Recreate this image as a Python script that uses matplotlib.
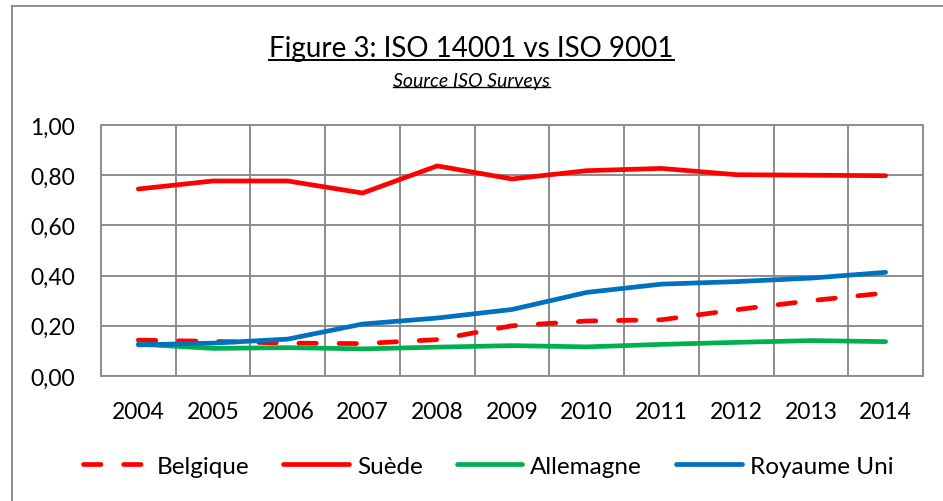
import matplotlib
matplotlib.use("Agg")
import matplotlib.pyplot as plt
from matplotlib.lines import Line2D

plt.rcParams['font.family'] = ['Lato', 'DejaVu Sans']

years = ["2004", "2005", "2006", "2007", "2008", "2009", "2010", "2011", "2012", "2013", "2014"]
belgique = [0.143, 0.138, 0.131, 0.129, 0.145, 0.200, 0.219, 0.224, 0.264, 0.300, 0.331]
suede = [0.745, 0.777, 0.777, 0.729, 0.837, 0.785, 0.818, 0.827, 0.802, 0.800, 0.798]
allemagne = [0.127, 0.110, 0.113, 0.108, 0.115, 0.121, 0.116, 0.126, 0.134, 0.141, 0.137]
royaume_uni = [0.124, 0.131, 0.147, 0.207, 0.231, 0.265, 0.333, 0.366, 0.376, 0.390, 0.413]
yticks = [0.0, 0.2, 0.4, 0.6, 0.8, 1.0]
ytick_labels = ["0,00", "0,20", "0,40", "0,60", "0,80", "1,00"]

W, H = 943, 502
fig = plt.figure(figsize=(W / 100, H / 100), dpi=100)
ax = fig.add_axes([101 / W, 1 - 377 / H, (923 - 101) / W, (377 - 126) / H])

x = list(range(len(years)))
lw = 3.4
ax.plot(x, belgique, color="#FF0000", lw=lw, dashes=(3.7, 4.8), dash_capstyle="round",
        solid_capstyle="round", label="Belgique", zorder=3)
ax.plot(x, suede, color="#FF0000", lw=lw, solid_capstyle="round", label="Suède", zorder=3)
ax.plot(x, allemagne, color="#00B050", lw=lw, solid_capstyle="round", label="Allemagne", zorder=3)
ax.plot(x, royaume_uni, color="#0070C0", lw=lw, solid_capstyle="round", label="Royaume Uni", zorder=3)

ax.set_xlim(-0.5, len(years) - 0.5)
ax.set_ylim(0, 1.0)
ax.set_yticks(yticks)
ax.set_yticklabels(ytick_labels)
ax.set_xticks(x)
ax.set_xticklabels(years)
ax.grid(False)
for v in yticks:
    ax.axhline(v, color="#8C8C8C", lw=1.4, zorder=1)
for i in range(len(years) + 1):
    ax.axvline(i - 0.5, color="#8C8C8C", lw=1.4, zorder=1)
for s in ax.spines.values():
    s.set_color("#8C8C8C")
    s.set_linewidth(1.4)
ax.tick_params(axis="both", which="both", length=0, labelsize=16.5, colors="black")
ax.tick_params(axis="y", pad=18.5)
ax.tick_params(axis="x", pad=18)

leg = fig.legend(loc="center", bbox_to_anchor=(488 / W, 1 - 467 / H), ncol=4, frameon=False,
                 fontsize=17.5, handlelength=2.7, handletextpad=0.33, columnspacing=1.4)

t1 = fig.text(0.5, 1 - 49 / H, "Figure 3: ISO 14001 vs ISO 9001", ha="center", va="center", fontsize=20)
t2 = fig.text(0.5, 1 - 81 / H, "Source ISO Surveys", ha="center", va="center", fontsize=14, style="italic")

# outer chart border (left and top visible)
fig.add_artist(Line2D([12 / W, 12 / W], [0, 1 - 7 / H], color="#8C8C8C", lw=1.4))
fig.add_artist(Line2D([12 / W, 1], [1 - 7 / H, 1 - 7 / H], color="#8C8C8C", lw=1.4))

# underlines
fig.canvas.draw()
r = fig.canvas.get_renderer()
for t, off, lwu in ((t1, 3, 1.4), (t2, 2, 1.0)):
    bb = t.get_window_extent(renderer=r)
    y = (bb.y0 - off + 4) / H
    fig.add_artist(Line2D([bb.x0 / W, bb.x1 / W], [y, y], color="black", lw=lwu))

fig.savefig("out.png", dpi=100)
